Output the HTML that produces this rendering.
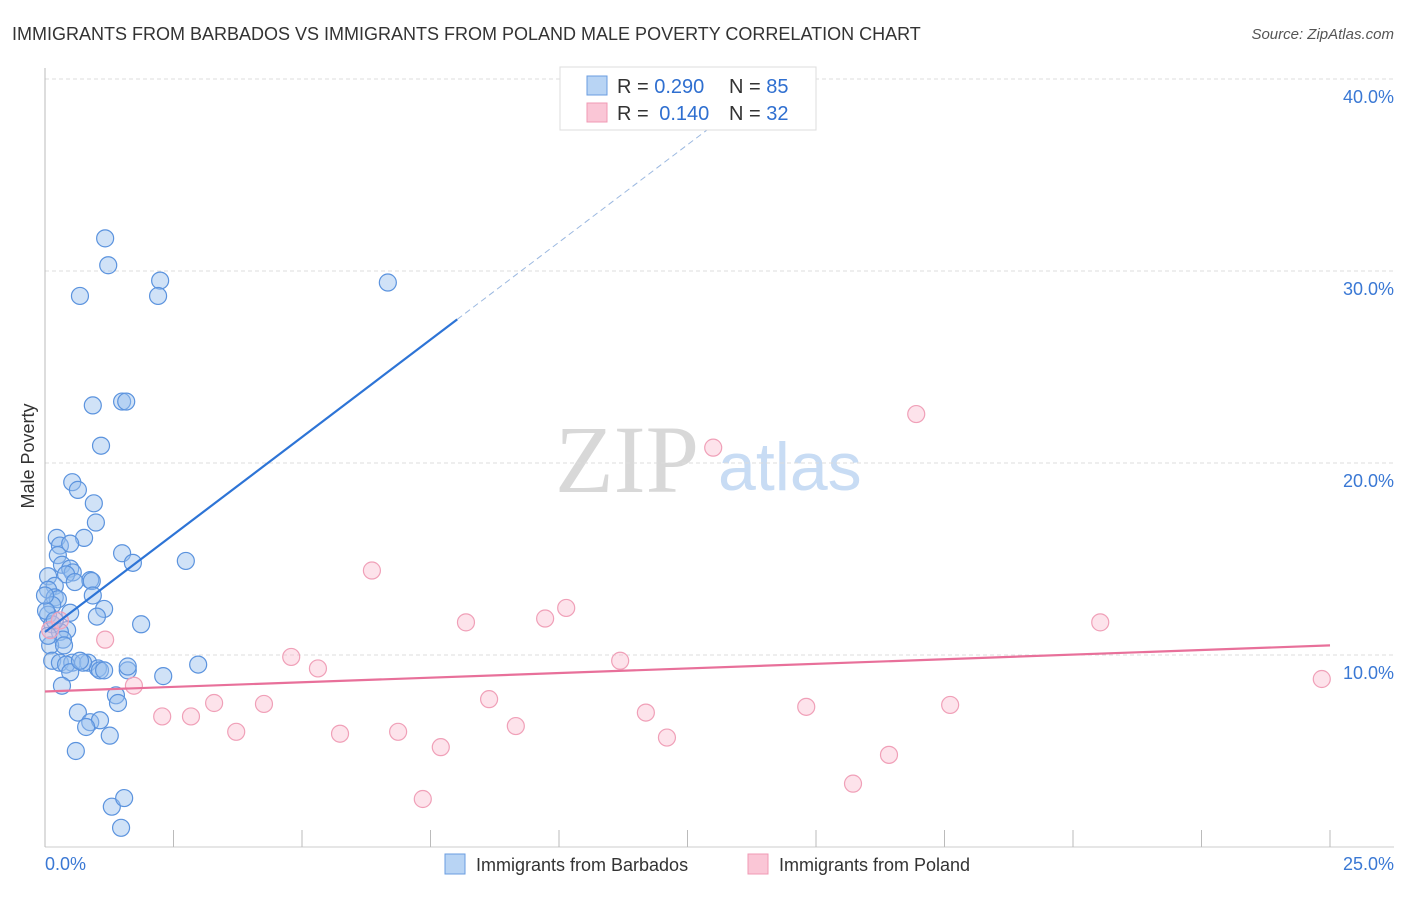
<!DOCTYPE html>
<html><head><meta charset="utf-8"><style>
body{margin:0;background:#fff;font-family:"Liberation Sans",sans-serif}
svg text{font-family:"Liberation Sans",sans-serif}
</style></head><body>
<svg width="1406" height="892">
<text x="12" y="40" font-size="18" fill="#333">IMMIGRANTS FROM BARBADOS VS IMMIGRANTS FROM POLAND MALE POVERTY CORRELATION CHART</text>
<text x="1394" y="39" font-size="15" fill="#555" font-style="italic" text-anchor="end">Source: ZipAtlas.com</text>
<text x="555" y="492" font-size="96" fill="#d8d8d8" font-family="Liberation Serif" style="font-family:'Liberation Serif',serif">ZIP</text>
<text x="718" y="490" font-size="68" fill="#c8dcf4">atlas</text>
<g id="grid"></g>
<g id="axes"></g>
<g id="pts"></g>
<g id="lines"></g>
<text transform="translate(34,456) rotate(-90)" font-size="18" fill="#333" text-anchor="middle">Male Poverty</text>
<text x="45" y="870" font-size="18" fill="#3a78d4">0.0%</text>
<text x="1394" y="870" font-size="18" fill="#3a78d4" text-anchor="end">25.0%</text>
<g>
<rect x="560" y="67" width="256" height="63" fill="#fff" stroke="#ddd"/>
<rect x="587" y="76" width="20" height="19" fill="#b8d4f4" stroke="#6a9de0"/>
<rect x="587" y="103" width="20" height="19" fill="#fac6d6" stroke="#f09ab4"/>
<text x="617" y="93" font-size="20" fill="#333">R = <tspan fill="#2f6fd0">0.290</tspan><tspan x="729">N = </tspan><tspan fill="#2f6fd0">85</tspan></text>
<text x="617" y="120" font-size="20" fill="#333">R = <tspan fill="#2f6fd0" dx="5">0.140</tspan><tspan x="729">N = </tspan><tspan fill="#2f6fd0">32</tspan></text>
</g>
<g><rect x="445" y="854" width="20" height="20" fill="#b8d4f4" stroke="#6a9de0"/><text x="476" y="871" font-size="18" fill="#333">Immigrants from Barbados</text></g>
<g><rect x="748" y="854" width="20" height="20" fill="#fac6d6" stroke="#f09ab4"/><text x="779" y="871" font-size="18" fill="#333">Immigrants from Poland</text></g>
</svg>
<script>
const yTicks=[10,20,30,40];
const xTickVals=[0,2.5,5,7.5,10,12.5,15,17.5,20,22.5,25];
const barbX=[1.17,1.23,0.68,2.24,2.20,6.67,1.50,1.58,0.93,1.09,0.53,0.64,0.95,0.99,0.23,0.76,0.29,0.49,0.25,1.50,2.74,1.71,0.33,0.49,0.54,0.41,0.88,0.91,0.06,0.58,0.19,0.06,0.93,0.19,0.25,0.14,1.15,0.49,0.06,1.01,1.87,0.14,0.43,0.29,0.35,0.10,0.14,0.29,0.53,0.41,0.84,1.03,1.07,0.74,1.61,1.15,2.30,2.98,0.49,0.33,1.38,1.42,0.64,0.88,1.07,0.80,1.26,0.60,1.30,1.54,1.48,0.02,0.0,0.19,0.68,0.06,1.61,0.37];
const barbY=[31.7,30.3,28.7,29.5,28.7,29.4,23.2,23.2,23.0,20.9,19.0,18.6,17.9,16.9,16.1,16.1,15.7,15.8,15.2,15.3,14.9,14.8,14.7,14.5,14.3,14.2,13.9,13.85,14.1,13.8,13.6,13.4,13.1,13.0,12.9,12.6,12.4,12.2,12.1,12.0,11.6,11.6,11.3,11.2,10.8,10.5,9.7,9.6,9.6,9.5,9.6,9.3,9.2,9.6,9.2,9.2,8.9,9.5,9.1,8.4,7.9,7.5,7.0,6.5,6.6,6.25,5.8,5.0,2.1,2.55,1.0,12.3,13.1,11.8,9.7,11.0,9.4,10.5];
const polX=[1.17,1.73,2.28,2.84,3.29,3.72,4.26,4.79,5.31,5.74,6.36,6.87,7.35,7.70,8.19,8.64,9.16,9.73,10.14,11.19,11.69,12.10,13.0,14.81,15.72,16.42,16.95,17.61,20.53,24.84,0.1,0.29];
const polY=[10.8,8.4,6.8,6.8,7.5,6.0,7.45,9.9,9.3,5.9,14.4,6.0,2.5,5.2,11.7,7.7,6.3,11.9,12.45,9.7,7.0,5.7,20.8,7.3,3.3,4.8,22.55,7.4,11.7,8.75,11.3,11.8];
const barbTrend=[11.2,2.03];
const polTrend=[8.1,0.096];
const tickFmt=["10.0%","20.0%","30.0%","40.0%"];
const NS="http://www.w3.org/2000/svg";
const X=v=>45+v*51.4, Y=v=>847-v*19.2;
function mk(t,a,p){const e=document.createElementNS(NS,t);for(const k in a)e.setAttribute(k,a[k]);p.appendChild(e);return e;}
const grid=document.getElementById('grid'),axes=document.getElementById('axes'),pts=document.getElementById('pts'),lines=document.getElementById('lines');
yTicks.forEach((v,i)=>{
 const l=mk('line',{x1:45,x2:1394,y1:Y(v),y2:Y(v),stroke:'#ddd','stroke-dasharray':'4,3'},grid);
 
 
 const t=mk('text',{x:1394,y:Y(v)+24,'font-size':18,fill:'#3a78d4','text-anchor':'end'},grid);
 t.textContent=tickFmt[i];
 
 
});
const ax=mk('line',{x1:45,x2:45,y1:68,y2:847,stroke:'#bbb'},axes);


const bx=mk('line',{x1:45,x2:1394,y1:847,y2:847,stroke:'#ccc'},axes);


xTickVals.forEach(v=>{
 const l=mk('line',{x1:X(v),x2:X(v),y1:830,y2:847,stroke:'#bbb'},axes);
 
 
});
barbX.forEach((v,i)=>{
 const c=mk('circle',{cx:X(v),cy:Y(barbY[i]),r:8.5,fill:'rgba(150,190,238,0.45)',stroke:'#5b93de','stroke-width':1.2},pts);
 
 
});
polX.forEach((v,i)=>{
 const c=mk('circle',{cx:X(v),cy:Y(polY[i]),r:8.5,fill:'rgba(250,185,205,0.4)',stroke:'#f0a0b8','stroke-width':1.2},pts);
 
 
});
const bEnd=8.02, bTop=(40.5-barbTrend[0])/barbTrend[1];
const l1=mk('line',{x1:X(0),y1:Y(barbTrend[0]),x2:X(bEnd),y2:Y(barbTrend[0]+barbTrend[1]*bEnd),stroke:'#2d74d6','stroke-width':2.2},lines);


const l2=mk('line',{x1:X(bEnd),y1:Y(barbTrend[0]+barbTrend[1]*bEnd),x2:X(bTop),y2:Y(40.5),stroke:'#9bb8e0','stroke-width':1,'stroke-dasharray':'6,4'},lines);


const l3=mk('line',{x1:X(0),y1:Y(polTrend[0]),x2:X(25),y2:Y(polTrend[0]+polTrend[1]*25),stroke:'#e8709a','stroke-width':2.2},lines);


</script>
</body></html>
